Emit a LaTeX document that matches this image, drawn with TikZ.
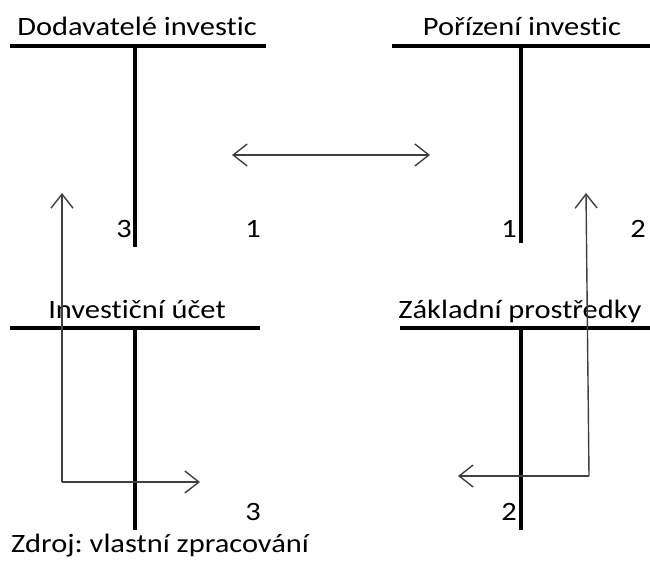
\documentclass[tikz,border=0pt]{standalone}
\usepackage{fontspec}
\setmainfont{Carlito}[Ligatures={NoCommon,NoRequired,NoContextual}]
\usetikzlibrary{arrows.meta}
\newcommand{\widetext}[1]{\scalebox{1.15}[1]{#1}}
\begin{document}
\frenchspacing
\begin{tikzpicture}[x=1pt,y=-1pt,
  tline/.style={line width=3.6pt},
  flow/.style={line width=1.4pt, draw=black!75, arrows={-Straight Barb[length=14pt,width=22pt,line width=1.4pt]}},
  label/.style={inner sep=0pt, font=\fontsize{26.5}{30}\selectfont},
  title/.style={label, anchor=base},
  num/.style={label, anchor=base}]
\useasboundingbox (0,0) rectangle (650,564);

% T-account: Dodavatele investic
\node[title] (t1) at (137,35.5) {\widetext{Dodavatelé investic}};
\coordinate (h1l) at (10,46); \coordinate (h1r) at (266,46);
\coordinate (v1t) at (135,46); \coordinate (v1b) at (135,247);
\draw[tline] (h1l) -- (h1r);
\draw[tline] (v1t) -- (v1b);
\node[num] (n1a) at (124,237) {\widetext{3}};
\node[num] (n1b) at (253,237) {\widetext{1}};

% T-account: Porizeni investic
\node[title] (t2) at (522,35.5) {\widetext{Pořízení investic}};
\coordinate (h2l) at (392,46); \coordinate (h2r) at (650,46);
\coordinate (v2t) at (521,46); \coordinate (v2b) at (521,243);
\draw[tline] (h2l) -- (h2r);
\draw[tline] (v2t) -- (v2b);
\node[num] (n2a) at (509,237) {\widetext{1}};
\node[num] (n2b) at (638,237) {\widetext{2}};

% T-account: Investicni ucet
\node[title] (t3) at (137,318) {\widetext{Investiční účet}};
\coordinate (h3l) at (10,328); \coordinate (h3r) at (260,328);
\coordinate (v3t) at (135,328); \coordinate (v3b) at (135,530);
\draw[tline] (h3l) -- (h3r);
\draw[tline] (v3t) -- (v3b);
\node[num] (n3) at (253,520) {\widetext{3}};

% T-account: Zakladni prostredky
\node[title] (t4) at (520,318) {\widetext{Základní prostředky}};
\coordinate (h4l) at (400,328); \coordinate (h4r) at (650,328);
\coordinate (v4t) at (521,328); \coordinate (v4b) at (521,530);
\draw[tline] (h4l) -- (h4r);
\draw[tline] (v4t) -- (v4b);
\node[num] (n4) at (509,520) {\widetext{2}};

% flows between the accounts
\coordinate (dl) at (232,155); \coordinate (dr) at (430,155);
\draw[flow, arrows={Straight Barb[length=14pt,width=22pt,line width=1.4pt]-Straight Barb[length=14pt,width=22pt,line width=1.4pt]}] (dl) -- (dr);

\coordinate (lt) at (62,193); \coordinate (lc) at (62,482); \coordinate (lr) at (200,482);
\draw[flow] (lc) -- (lt);
\draw[flow] (lc) -- (lr);

\coordinate (rt) at (586,193); \coordinate (rc) at (589,476); \coordinate (rl) at (458,476);
\draw[flow] (rc) -- (rt);
\draw[flow] (rc) -- (rl);

% source note
\node[label, anchor=base west] (src) at (11,552) {\widetext{Zdroj: vlastní zpracování}};
\end{tikzpicture}
\end{document}
